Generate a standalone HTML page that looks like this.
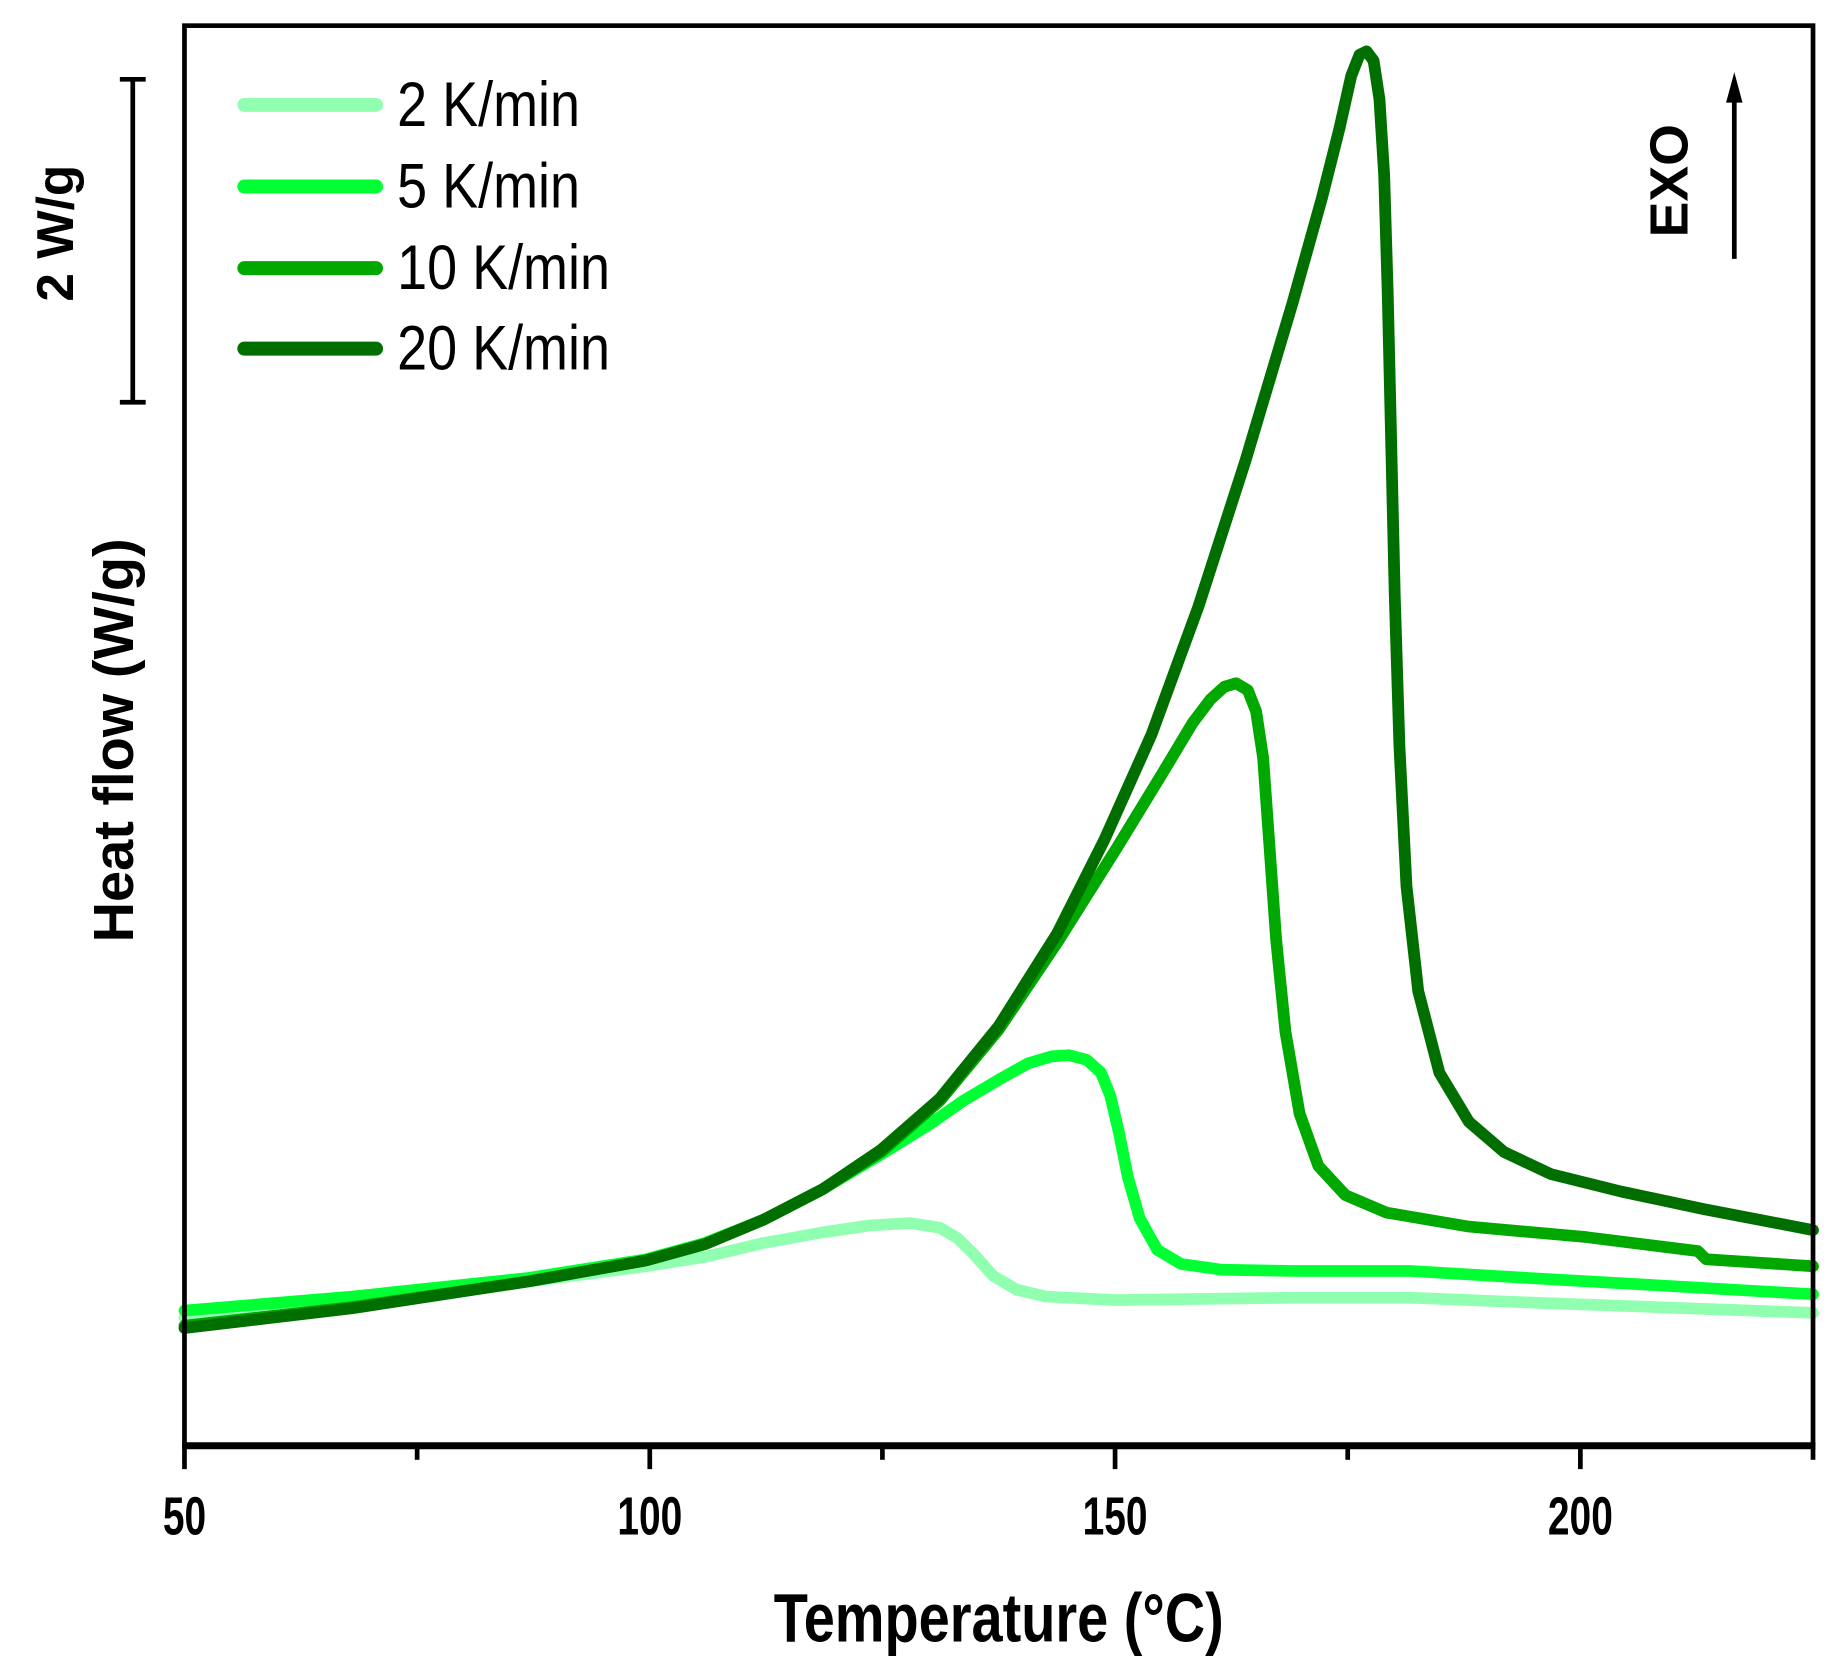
<!DOCTYPE html>
<html><head><meta charset="utf-8"><style>
html,body{margin:0;padding:0;background:#fff;}
svg{display:block;}
</style></head><body>
<svg width="1833" height="1679" viewBox="0 0 1560 1440" preserveAspectRatio="none" xmlns="http://www.w3.org/2000/svg">
<rect width="1560" height="1440" fill="#fff"/>
<g fill="none" stroke-linejoin="round" stroke-linecap="round" stroke-width="10">
<polyline stroke="#90ffb0" points="157,1130 300,1116 450,1099 550,1086 600,1078 650,1066 700,1057 740,1051 775,1049 800,1053 815,1062 830,1077 845,1094 865,1106 890,1112 950,1115 1100,1113 1200,1113 1300,1117 1543,1126"/>
<polyline stroke="#00ff33" points="157,1124 300,1112 450,1096 550,1080 600,1066 650,1046 700,1020 750,990 790,965 820,944 850,926 875,912 895,906 910,905 925,909 937,920 945,940 952,970 960,1010 970,1045 985,1072 1005,1084 1040,1089 1100,1090 1200,1090 1300,1096 1543,1110"/>
<polyline stroke="#00a800" points="157,1137 300,1121 450,1099 550,1081 600,1067 650,1046 700,1020 750,988 800,944 850,883 900,808 950,728 990,662 1015,620 1030,600 1042,589 1052,586 1062,592 1069,610 1075,650 1080,720 1086,805 1094,885 1106,955 1122,1000 1145,1025 1180,1040 1250,1052 1350,1061 1445,1073 1452,1080 1543,1086"/>
<polyline stroke="#006f00" points="157,1139 300,1122 450,1099 550,1081 600,1067 650,1046 700,1020 750,986 800,942 850,880 900,800 940,720 980,630 1020,520 1060,395 1100,260 1125,170 1140,110 1150,65 1157,47 1163,44 1169,52 1174,85 1178,150 1181,250 1184,380 1187,510 1191,640 1197,760 1207,850 1225,920 1250,962 1280,988 1320,1007 1380,1022 1450,1037 1543,1055"/>
</g>
<g stroke="#000" fill="none">
<rect x="157" y="22" width="1386" height="1218" stroke-width="4"/>
<line x1="155" y1="1240" x2="1545" y2="1240" stroke-width="6"/>
<g stroke-width="4">
<line x1="157" y1="1240" x2="157" y2="1260"/><line x1="553" y1="1240" x2="553" y2="1260"/>
<line x1="949" y1="1240" x2="949" y2="1260"/><line x1="1345" y1="1240" x2="1345" y2="1260"/>
<line x1="355" y1="1240" x2="355" y2="1252"/><line x1="751" y1="1240" x2="751" y2="1252"/>
<line x1="1147" y1="1240" x2="1147" y2="1252"/><line x1="1543" y1="1240" x2="1543" y2="1252"/>
<line x1="113" y1="68" x2="113" y2="345"/><line x1="102" y1="68" x2="124" y2="68"/><line x1="102" y1="345" x2="124" y2="345"/>
<line x1="1476" y1="222" x2="1476" y2="80"/>
</g>
</g>
<polygon points="1476,62 1469,88 1483,88" fill="#000"/>
<g stroke-width="12" stroke-linecap="round" fill="none">
<line x1="208" y1="90" x2="320" y2="90" stroke="#90ffb0"/>
<line x1="208" y1="160" x2="320" y2="160" stroke="#00ff33"/>
<line x1="208" y1="230" x2="320" y2="230" stroke="#00a800"/>
<line x1="208" y1="299" x2="320" y2="299" stroke="#006f00"/>
</g>
<g font-family="'Liberation Sans Narrow','Liberation Sans',sans-serif" font-size="54" fill="#000">
<text transform="translate(338,108) scale(0.85,1)">2 K/min</text>
<text transform="translate(338,178) scale(0.85,1)">5 K/min</text>
<text transform="translate(338,248) scale(0.85,1)">10 K/min</text>
<text transform="translate(338,317) scale(0.85,1)">20 K/min</text>
</g>
<g font-family="'Liberation Sans',sans-serif" font-weight="bold" font-size="46" fill="#000" text-anchor="middle">
<text transform="translate(157,1316) scale(0.72,1.0)">50</text>
<text transform="translate(553,1316) scale(0.72,1.0)">100</text>
<text transform="translate(949,1316) scale(0.72,1.0)">150</text>
<text transform="translate(1345,1316) scale(0.72,1.0)">200</text>
<text transform="translate(850,1408) scale(0.85,1.05)" font-size="56">Temperature (°C)</text>
</g>
<g font-family="'Liberation Sans',sans-serif" font-weight="bold" fill="#000" text-anchor="middle">
<text transform="translate(62,200) rotate(-90)" font-size="44">2 W/g</text>
<text transform="translate(113,635) rotate(-90)" font-size="48">Heat flow (W/g)</text>
<text transform="translate(1436,155) rotate(-90)" font-size="46">EXO</text>
</g>
</svg>
</body></html>
